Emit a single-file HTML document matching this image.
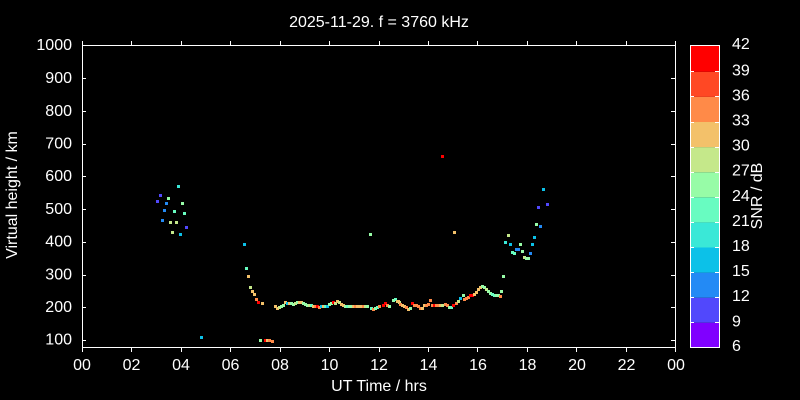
<!DOCTYPE html>
<html><head><meta charset="utf-8"><style>
html,body{margin:0;padding:0;background:#000;}
svg{display:block;}
text{font-family:"Liberation Sans",Arial,sans-serif;font-size:16px;fill:#fff;}
.V{fill:#8000ff}.B1{fill:#5148fc}.B{fill:#238af5}.C{fill:#0cc1e8}.T{fill:#3ae8d7}.A{fill:#68fcc1}
.G{fill:#97fca7}.Y{fill:#c5e88a}.LO{fill:#f3c16a}.O{fill:#ff8a48}.RO{fill:#ff4824}.R{fill:#ff0000}
</style></head><body>
<svg width="800" height="400" viewBox="0 0 800 400" xmlns="http://www.w3.org/2000/svg">
<rect width="800" height="400" fill="#000"/>
<text x="379" y="27" text-anchor="middle">2025-11-29. f = 3760 kHz</text>

<!-- data points -->
<g>
<rect class="T" x="177" y="185" width="3" height="3"/>
<rect class="B1" x="159" y="194" width="3" height="3"/>
<rect class="G" x="167" y="197" width="3" height="3"/>
<rect class="B1" x="156" y="200" width="3" height="3"/>
<rect class="B" x="165" y="202" width="3" height="3"/>
<rect class="G" x="181" y="202" width="3" height="3"/>
<rect class="B" x="163" y="209" width="3" height="3"/>
<rect class="A" x="173" y="210" width="3" height="3"/>
<rect class="A" x="183" y="212" width="3" height="3"/>
<rect class="B" x="161" y="219" width="3" height="3"/>
<rect class="Y" x="169" y="221" width="3" height="3"/>
<rect class="Y" x="175" y="221" width="3" height="3"/>
<rect class="B1" x="185" y="226" width="3" height="3"/>
<rect class="Y" x="171" y="231" width="3" height="3"/>
<rect class="C" x="179" y="233" width="3" height="3"/>
<rect class="C" x="243" y="243" width="3" height="3"/>
<rect class="C" x="200" y="336" width="3" height="3"/>

<rect class="A" x="245" y="267" width="3" height="3"/>
<rect class="LO" x="247" y="275" width="3" height="3"/>
<rect class="Y" x="249" y="286" width="3" height="3"/>
<rect class="LO" x="251" y="290" width="3" height="3"/>
<rect class="LO" x="253" y="293" width="3" height="3"/>
<rect class="O" x="255" y="298" width="3" height="3"/>
<rect class="R" x="257" y="301" width="3" height="3"/>
<rect class="LO" x="261" y="302" width="3" height="3"/>

<rect class="G" x="259" y="339" width="3" height="3"/>
<rect class="R" x="264" y="339" width="3" height="3"/>
<rect class="LO" x="266" y="339" width="3" height="3"/>
<rect class="O" x="268" y="339" width="3" height="3"/>
<rect class="O" x="271" y="340" width="3" height="3"/>

<rect class="LO" x="274" y="305" width="3" height="3"/>
<rect class="LO" x="276" y="307" width="3" height="3"/>
<rect class="Y" x="278" y="306" width="3" height="3"/>
<rect class="G" x="280" y="305" width="3" height="3"/>
<rect class="G" x="282" y="304" width="3" height="3"/>
<rect class="LO" x="284" y="301" width="3" height="3"/>
<rect class="C" x="286" y="302" width="3" height="3"/>
<rect class="LO" x="288" y="302" width="3" height="3"/>
<rect class="G" x="290" y="302" width="3" height="3"/>
<rect class="G" x="292" y="303" width="3" height="3"/>
<rect class="Y" x="294" y="302" width="3" height="3"/>
<rect class="G" x="296" y="301" width="3" height="3"/>
<rect class="LO" x="298" y="301" width="3" height="3"/>
<rect class="LO" x="300" y="301" width="3" height="3"/>
<rect class="G" x="302" y="302" width="3" height="3"/>
<rect class="G" x="304" y="303" width="3" height="3"/>
<rect class="G" x="306" y="304" width="3" height="3"/>
<rect class="Y" x="308" y="304" width="3" height="3"/>
<rect class="A" x="310" y="304" width="3" height="3"/>
<rect class="LO" x="312" y="305" width="3" height="3"/>
<rect class="O" x="314" y="305" width="3" height="3"/>
<rect class="R" x="316" y="305" width="3" height="3"/>
<rect class="O" x="318" y="306" width="3" height="3"/>
<rect class="C" x="320" y="305" width="3" height="3"/>
<rect class="LO" x="322" y="305" width="3" height="3"/>
<rect class="A" x="324" y="305" width="3" height="3"/>
<rect class="C" x="326" y="305" width="3" height="3"/>
<rect class="G" x="328" y="303" width="3" height="3"/>
<rect class="G" x="330" y="302" width="3" height="3"/>
<rect class="R" x="332" y="301" width="3" height="3"/>
<rect class="Y" x="334" y="302" width="3" height="3"/>
<rect class="LO" x="336" y="300" width="3" height="3"/>
<rect class="Y" x="338" y="301" width="3" height="3"/>
<rect class="LO" x="340" y="303" width="3" height="3"/>
<rect class="LO" x="342" y="304" width="3" height="3"/>
<rect class="G" x="344" y="305" width="3" height="3"/>
<rect class="A" x="346" y="305" width="3" height="3"/>
<rect class="G" x="348" y="305" width="3" height="3"/>
<rect class="G" x="350" y="305" width="3" height="3"/>
<rect class="LO" x="352" y="305" width="3" height="3"/>
<rect class="O" x="354" y="305" width="3" height="3"/>
<rect class="LO" x="356" y="305" width="3" height="3"/>
<rect class="LO" x="358" y="305" width="3" height="3"/>
<rect class="LO" x="360" y="305" width="3" height="3"/>
<rect class="O" x="362" y="305" width="3" height="3"/>
<rect class="Y" x="364" y="305" width="3" height="3"/>
<rect class="G" x="366" y="305" width="3" height="3"/>
<rect class="A" x="370" y="307" width="3" height="3"/>
<rect class="O" x="372" y="308" width="3" height="3"/>
<rect class="G" x="374" y="307" width="3" height="3"/>
<rect class="A" x="376" y="306" width="3" height="3"/>
<rect class="O" x="378" y="305" width="3" height="3"/>
<rect class="R" x="382" y="304" width="3" height="3"/>
<rect class="R" x="384" y="302" width="3" height="3"/>
<rect class="O" x="386" y="304" width="3" height="3"/>
<rect class="G" x="388" y="305" width="3" height="3"/>
<rect class="G" x="392" y="299" width="3" height="3"/>
<rect class="A" x="394" y="298" width="3" height="3"/>
<rect class="LO" x="396" y="300" width="3" height="3"/>
<rect class="Y" x="398" y="301" width="3" height="3"/>

<rect class="LO" x="397" y="300" width="3" height="3"/>
<rect class="O" x="399" y="303" width="3" height="3"/>
<rect class="LO" x="401" y="304" width="3" height="3"/>
<rect class="LO" x="403" y="305" width="3" height="3"/>
<rect class="O" x="405" y="306" width="3" height="3"/>
<rect class="LO" x="407" y="308" width="3" height="3"/>
<rect class="G" x="409" y="307" width="3" height="3"/>
<rect class="R" x="411" y="302" width="3" height="3"/>
<rect class="O" x="413" y="304" width="3" height="3"/>
<rect class="O" x="415" y="304" width="3" height="3"/>
<rect class="O" x="417" y="305" width="3" height="3"/>
<rect class="O" x="419" y="307" width="3" height="3"/>
<rect class="LO" x="421" y="307" width="3" height="3"/>
<rect class="LO" x="423" y="304" width="3" height="3"/>
<rect class="O" x="425" y="304" width="3" height="3"/>
<rect class="O" x="427" y="303" width="3" height="3"/>
<rect class="O" x="429" y="299" width="3" height="3"/>
<rect class="O" x="431" y="304" width="3" height="3"/>
<rect class="R" x="433" y="304" width="3" height="3"/>
<rect class="O" x="435" y="304" width="3" height="3"/>
<rect class="O" x="437" y="304" width="3" height="3"/>
<rect class="LO" x="439" y="304" width="3" height="3"/>
<rect class="Y" x="441" y="304" width="3" height="3"/>
<rect class="O" x="444" y="303" width="3" height="3"/>
<rect class="O" x="446" y="304" width="3" height="3"/>
<rect class="G" x="448" y="306" width="3" height="3"/>
<rect class="A" x="450" y="306" width="3" height="3"/>
<rect class="R" x="452" y="304" width="3" height="3"/>
<rect class="O" x="455" y="302" width="3" height="3"/>
<rect class="Y" x="457" y="300" width="3" height="3"/>
<rect class="C" x="459" y="297" width="3" height="3"/>
<rect class="G" x="462" y="294" width="3" height="3"/>
<rect class="O" x="463" y="298" width="3" height="3"/>
<rect class="O" x="465" y="297" width="3" height="3"/>
<rect class="O" x="467" y="296" width="3" height="3"/>
<rect class="R" x="469" y="294" width="3" height="3"/>
<rect class="R" x="471" y="294" width="3" height="3"/>
<rect class="LO" x="473" y="293" width="3" height="3"/>
<rect class="LO" x="475" y="291" width="3" height="3"/>
<rect class="LO" x="477" y="288" width="3" height="3"/>
<rect class="LO" x="479" y="286" width="3" height="3"/>
<rect class="G" x="481" y="285" width="3" height="3"/>
<rect class="G" x="483" y="286" width="3" height="3"/>
<rect class="Y" x="485" y="288" width="3" height="3"/>
<rect class="G" x="487" y="290" width="3" height="3"/>
<rect class="G" x="489" y="292" width="3" height="3"/>
<rect class="A" x="491" y="293" width="3" height="3"/>
<rect class="A" x="493" y="294" width="3" height="3"/>
<rect class="G" x="495" y="294" width="3" height="3"/>
<rect class="G" x="497" y="294" width="3" height="3"/>
<rect class="O" x="499" y="295" width="3" height="3"/>
<rect class="G" x="500" y="290" width="3" height="3"/>
<rect class="G" x="502" y="275" width="3" height="3"/>

<rect class="C" x="542" y="188" width="3" height="3"/>
<rect class="B1" x="537" y="206" width="3" height="3"/>
<rect class="B1" x="546" y="203" width="3" height="3"/>
<rect class="G" x="535" y="223" width="3" height="3"/>
<rect class="B" x="539" y="225" width="3" height="3"/>
<rect class="Y" x="507" y="234" width="3" height="3"/>
<rect class="C" x="533" y="236" width="3" height="3"/>
<rect class="T" x="504" y="241" width="3" height="3"/>
<rect class="C" x="509" y="243" width="3" height="3"/>
<rect class="G" x="519" y="243" width="3" height="3"/>
<rect class="C" x="531" y="243" width="3" height="3"/>
<rect class="B" x="515" y="248" width="3" height="3"/>
<rect class="B" x="517" y="248" width="3" height="3"/>
<rect class="G" x="521" y="250" width="3" height="3"/>
<rect class="A" x="511" y="251" width="3" height="3"/>
<rect class="A" x="513" y="252" width="3" height="3"/>
<rect class="B" x="529" y="252" width="3" height="3"/>
<rect class="Y" x="523" y="256" width="3" height="3"/>
<rect class="G" x="525" y="257" width="3" height="3"/>
<rect class="G" x="527" y="257" width="3" height="3"/>

<rect class="R" x="441" y="155" width="3" height="3"/>
<rect class="G" x="369" y="233" width="3" height="3"/>
<rect class="LO" x="453" y="231" width="3" height="3"/>
</g>

<!-- axes frame -->
<g stroke="#fff" stroke-width="1" fill="none">
<rect x="82.5" y="45.5" width="593" height="302"/>
<!-- y ticks inward -->
<path d="M82 78.5h4M82 111.5h4M82 144.5h4M82 176.5h4M82 209.5h4M82 242.5h4M82 275.5h4M82 307.5h4M82 340.5h4"/>
<path d="M671 78.5h4M671 111.5h4M671 144.5h4M671 176.5h4M671 209.5h4M671 242.5h4M671 275.5h4M671 307.5h4M671 340.5h4"/>
<!-- x ticks outward -->
<path d="M82.5 347v5M131.5 347v5M181.5 347v5M230.5 347v5M280.5 347v5M329.5 347v5M379.5 347v5M428.5 347v5M477.5 347v5M527.5 347v5M576.5 347v5M626.5 347v5M675.5 347v5"/>
<path d="M82.5 41v5M131.5 41v5M181.5 41v5M230.5 41v5M280.5 41v5M329.5 41v5M379.5 41v5M428.5 41v5M477.5 41v5M527.5 41v5M576.5 41v5M626.5 41v5M675.5 41v5"/>
</g>

<!-- y tick labels -->
<g text-anchor="end">
<text x="72" y="50">1000</text>
<text x="72" y="83">900</text>
<text x="72" y="116">800</text>
<text x="72" y="148.5">700</text>
<text x="72" y="181">600</text>
<text x="72" y="214">500</text>
<text x="72" y="246.5">400</text>
<text x="72" y="279.5">300</text>
<text x="72" y="312">200</text>
<text x="72" y="344.5">100</text>
</g>
<!-- x tick labels -->
<g text-anchor="middle">
<text x="82" y="370">00</text>
<text x="131.5" y="370">02</text>
<text x="181" y="370">04</text>
<text x="230.5" y="370">06</text>
<text x="280" y="370">08</text>
<text x="329.5" y="370">10</text>
<text x="379" y="370">12</text>
<text x="428.5" y="370">14</text>
<text x="478" y="370">16</text>
<text x="527.5" y="370">18</text>
<text x="577" y="370">20</text>
<text x="626.5" y="370">22</text>
<text x="676" y="370">00</text>
</g>
<text x="379" y="391" text-anchor="middle">UT Time / hrs</text>
<text transform="translate(17,195) rotate(-90)" text-anchor="middle">Virtual height / km</text>

<!-- colorbar -->
<g>
<rect x="690" y="322.7" width="30" height="24.8" fill="#8000ff"/>
<rect x="690" y="297.7" width="30" height="25" fill="#5148fc"/>
<rect x="690" y="272.6" width="30" height="25.1" fill="#238af5"/>
<rect x="690" y="247.5" width="30" height="25.1" fill="#0cc1e8"/>
<rect x="690" y="222.4" width="30" height="25.1" fill="#3ae8d7"/>
<rect x="690" y="197.3" width="30" height="25.1" fill="#68fcc1"/>
<rect x="690" y="172.2" width="30" height="25.1" fill="#97fca7"/>
<rect x="690" y="147.1" width="30" height="25.1" fill="#c5e88a"/>
<rect x="690" y="122" width="30" height="25.1" fill="#f3c16a"/>
<rect x="690" y="96.9" width="30" height="25.1" fill="#ff8a48"/>
<rect x="690" y="71.8" width="30" height="25.1" fill="#ff4824"/>
<rect x="690" y="45" width="30" height="26.8" fill="#ff0000"/>
</g>
<g stroke="#fff" stroke-width="1" fill="none">
<rect x="690.5" y="45.5" width="29" height="302"/>
<path d="M690 322.5h4M690 297.5h4M690 272.5h4M690 247.5h4M690 222.5h4M690 197.5h4M690 172.5h4M690 147.5h4M690 122.5h4M690 96.5h4M690 71.5h4"/>
<path d="M715 322.5h4M715 297.5h4M715 272.5h4M715 247.5h4M715 222.5h4M715 197.5h4M715 172.5h4M715 147.5h4M715 122.5h4M715 96.5h4M715 71.5h4"/>
</g>
<g>
<text x="732" y="49">42</text>
<text x="732" y="75.5">39</text>
<text x="732" y="100.5">36</text>
<text x="732" y="125.5">33</text>
<text x="732" y="150.5">30</text>
<text x="732" y="175.5">27</text>
<text x="732" y="201">24</text>
<text x="732" y="226">21</text>
<text x="732" y="251">18</text>
<text x="732" y="276">15</text>
<text x="732" y="301">12</text>
<text x="732" y="326.5">9</text>
<text x="732" y="351">6</text>
</g>
<text transform="translate(762,196) rotate(-90)" text-anchor="middle">SNR / dB</text>
</svg>
</body></html>
